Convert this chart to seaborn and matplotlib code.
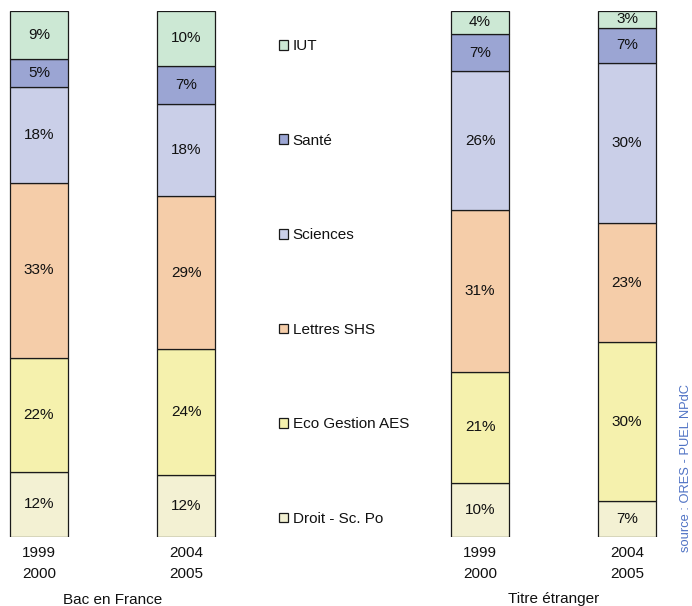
import matplotlib
matplotlib.use("Agg")
import matplotlib.pyplot as plt
import pandas as pd
import seaborn as sns

# ---------------- data ----------------
categories = ["IUT", "Santé", "Sciences", "Lettres SHS", "Eco Gestion AES", "Droit - Sc. Po"]
colors = ["#CCE8D4", "#9BA5D3", "#CACFE8", "#F5CDA9", "#F5F1AD", "#F3F1D3"]
bar_positions = [0, 1, 3, 4]
tick_labels = ["1999\n2000", "2004\n2005", "1999\n2000", "2004\n2005"]
group_labels = ["Bac en France", "Titre étranger"]
bac_1999 = [9.2, 5.2, 18.3, 33.3, 21.7, 12.3]
bac_2004 = [10.4, 7.2, 17.6, 29.1, 24.0, 11.7]
etr_1999 = [4.3, 7.2, 26.4, 30.8, 21.0, 10.3]
etr_2004 = [3.2, 6.7, 30.4, 22.7, 30.2, 6.8]
source_text = "source : ORES - PUEL NPdC"

series = [bac_1999, bac_2004, etr_1999, etr_2004]
rows = []
for pos, vals in zip(bar_positions, series):
    for cat, v in zip(categories, vals):
        rows.append({"pos": pos, "cat": cat, "pct": v})
df = pd.DataFrame(rows)

# ---------------- style ----------------
sns.set_theme(style="white")
plt.rcParams["font.family"] = ["Liberation Sans", "DejaVu Sans"]
plt.rcParams["font.size"] = 11

fig = plt.figure(figsize=(6.92, 6.06), dpi=100)
W, H = 692, 606
ax_bottom = 1 - 536.7 / H
ax_height = (536.7 - 11) / H
ax = fig.add_axes([0, ax_bottom, 1, ax_height])

sns.histplot(
    data=df, x="pos", weights="pct", hue="cat", hue_order=categories,
    palette=colors, multiple="stack", discrete=True, shrink=0.4,
    alpha=1, edgecolor="#1a1a1a", linewidth=0.9, ax=ax,
)

# hide empty bins (gap between the two groups)
for p in ax.patches:
    if p.get_height() == 0:
        p.set_visible(False)

for cont in ax.containers:
    ax.bar_label(cont, label_type="center",
                 fmt=lambda v: f"{v:.0f}%" if v > 0 else "",
                 fontsize=11, color="#111111")

px_per_unit = 147
ax.set_xlim(-39 / px_per_unit, (W - 39) / px_per_unit)
ax.set_ylim(0, 100)
ax.set_xticks(bar_positions)
ax.set_xticklabels(tick_labels, fontsize=11)
for t in ax.get_xticklabels():
    t.set_linespacing(1.62)
    t.set_color("#111111")
ax.tick_params(axis="x", length=0, pad=6.6)
ax.set_yticks([])
ax.set_xlabel("")
ax.set_ylabel("")
for s in ax.spines.values():
    s.set_visible(False)

# group labels
trans = matplotlib.transforms.blended_transform_factory(ax.transData, fig.transFigure)
group_centers = [(bar_positions[0] + bar_positions[1]) / 2,
                 (bar_positions[2] + bar_positions[3]) / 2]
for gx, gl in zip(group_centers, group_labels):
    ax.text(gx, 1 - 603.5 / H, gl, transform=trans, ha="center", va="baseline",
            fontsize=11, color="#111111")

sns.move_legend(
    ax, loc="center left",
    bbox_to_anchor=(279 / W, 1 - 282.5 / H), bbox_transform=fig.transFigure,
    frameon=False, title=None, labelspacing=5.27, handlelength=0.6,
    handleheight=0.6, handletextpad=0.3, borderpad=0, borderaxespad=0,
    fontsize=11,
)
for t in ax.get_legend().get_texts():
    t.set_color("#111111")

fig.text(686 / W, 1 - 552 / H, source_text, rotation=90, ha="center", va="bottom",
         fontsize=9.3, color="#4F72C4")

fig.savefig("out.png", dpi=100)
